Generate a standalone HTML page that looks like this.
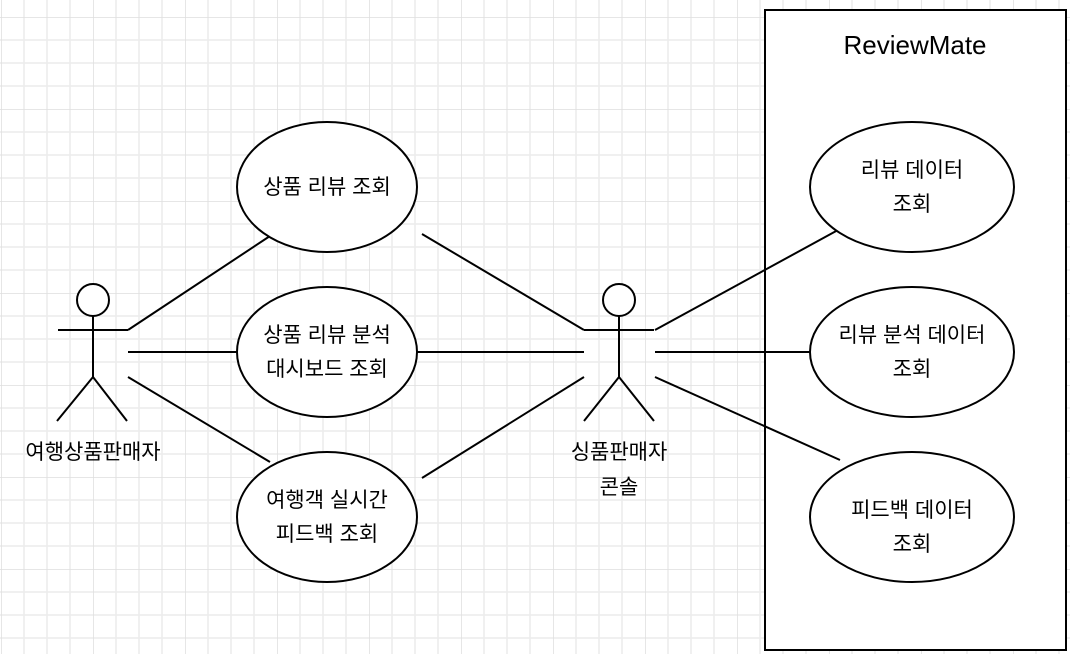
<!DOCTYPE html>
<html><head><meta charset="utf-8"><style>
body{margin:0;background:#fff;}
svg{display:block}
text{font-family:"Liberation Sans","Noto Sans CJK KR",sans-serif;fill:#000;}
</style></head><body>
<svg width="1070" height="654" xmlns="http://www.w3.org/2000/svg">
<defs>
<pattern id="g" x="1" y="17" width="92" height="92" patternUnits="userSpaceOnUse">
<path d="M23 0V92M46 0V92M69 0V92M0 23H92M0 46H92M0 69H92" stroke="#ececec" stroke-width="1.5"/>
<path d="M0 0V92M0 0H92" stroke="#dedede" stroke-width="1.5"/>
</pattern>
</defs>
<rect width="1070" height="654" fill="url(#g)"/>
<g stroke="#000" stroke-width="2" fill="none">
<rect x="765" y="10" width="301" height="640" fill="#fff"/>
<circle cx="93" cy="300" r="16" fill="#fff"/>
<path d="M93 316V377M58 330H128M93 377L57 421M93 377L127 421"/>
<circle cx="619" cy="300" r="16" fill="#fff"/>
<path d="M619 316V377M584 330H654M619 377L584 421M619 377L654 421"/>
<path d="M128 330L270 236M128 352H237M128 377L270 462"/>
<path d="M422 234L584 330M417 352H584M422 478L584 377"/>
<path d="M655 330L838 230M655 352H810M655 377L840 460"/>
<ellipse cx="327" cy="187" rx="90" ry="65" fill="#fff"/>
<ellipse cx="327" cy="352" rx="90" ry="65" fill="#fff"/>
<ellipse cx="327" cy="517" rx="90" ry="65" fill="#fff"/>
<ellipse cx="912" cy="187" rx="102" ry="65" fill="#fff"/>
<ellipse cx="912" cy="352" rx="102" ry="65" fill="#fff"/>
<ellipse cx="912" cy="517" rx="102" ry="65" fill="#fff"/>
</g>
<g font-size="21" text-anchor="middle">
<text x="915" y="54" font-size="26">ReviewMate</text>
<text x="327" y="194">상품 리뷰 조회</text>
<text x="327" y="342">상품 리뷰 분석</text>
<text x="327" y="376">대시보드 조회</text>
<text x="327" y="507">여행객 실시간</text>
<text x="327" y="541">피드백 조회</text>
<text x="912" y="177">리뷰 데이터</text>
<text x="912" y="211">조회</text>
<text x="912" y="342">리뷰 분석 데이터</text>
<text x="912" y="376">조회</text>
<text x="912" y="517">피드백 데이터</text>
<text x="912" y="551">조회</text>
<text x="93" y="459">여행상품판매자</text>
<text x="619" y="459">싱품판매자</text>
<text x="619" y="494">콘솔</text>
</g>
</svg>
</body></html>
